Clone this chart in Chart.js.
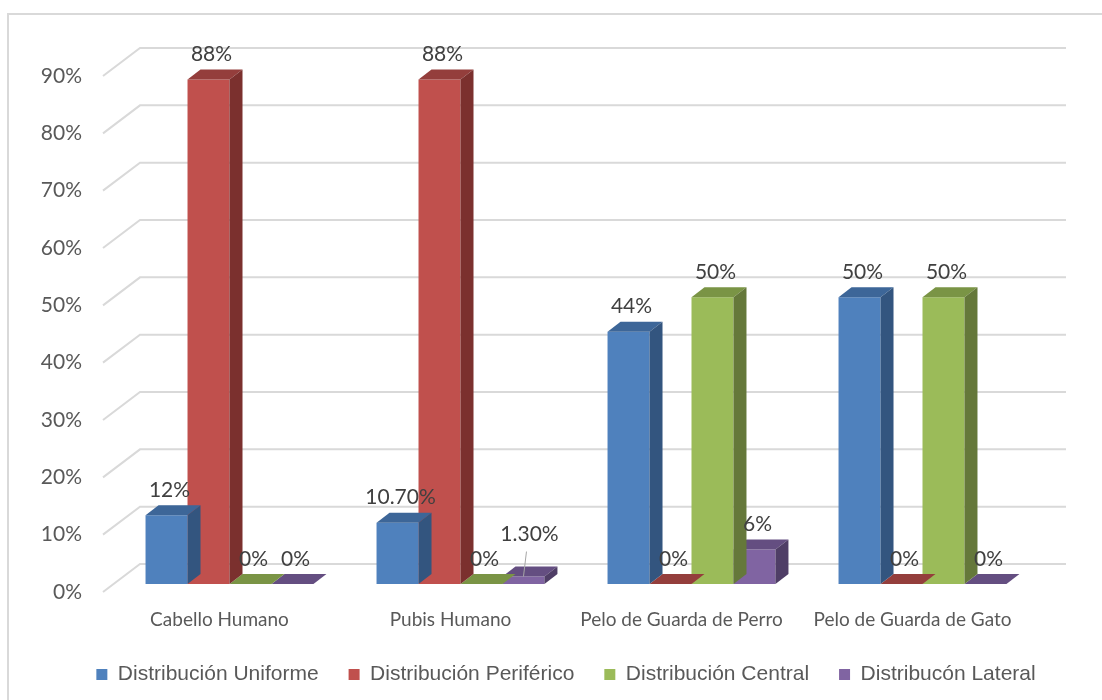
<!DOCTYPE html>
<html>
<head>
<meta charset="utf-8">
<script src="https://cdn.jsdelivr.net/npm/chart.js@4.4.1/dist/chart.umd.min.js"></script>
<style>
  html, body { margin: 0; padding: 0; background: #fff; overflow: hidden; }
  #frame { position: absolute; left: 7px; top: 13px; width: 1110px; height: 720px; border: 2px solid #D9D9D9; box-sizing: border-box; }
  #wrap { position: absolute; left: 0; top: 0; width: 1102px; height: 700px; }
</style>
</head>
<body>
<div id="frame"></div>
<div id="wrap"><canvas id="chart"></canvas></div>
<script>
// data (percent)
const categories = ['Cabello Humano', 'Pubis Humano', 'Pelo de Guarda de Perro', 'Pelo de Guarda de Gato'];
const seriesNames = ['Distribución Uniforme', 'Distribución Periférico', 'Distribución Central', 'Distribucón Lateral'];
const uniforme = [12, 10.7, 44, 50];
const periferico = [88, 88, 0, 0];
const central = [0, 0, 50, 50];
const lateral = [0, 1.3, 6, 0];
const yMax = 90;
const yStep = 10;

// face colours: front, top, side
const palette = [
  ['#4F81BD', '#3D6698', '#33557F'],
  ['#C0504D', '#943E3C', '#7B302E'],
  ['#9BBB59', '#7A9445', '#65783A'],
  ['#8064A2', '#644E81', '#4F3E66']
];

const DX = 13, DY = 10;          // bar depth
const fmt = v => Number.isInteger(v) ? v + '%' : v.toFixed(2) + '%';

const cube = {
  id: 'cube',
  afterLayout(chart) {
    // legend sits right of the canvas centre in the original
    chart.legend.left += 47;
    chart.legend.right += 47;
  },
  beforeDatasetsDraw(chart) {
    const {ctx, chartArea: a, scales: {y}} = chart;
    ctx.save();
    ctx.strokeStyle = '#D9D9D9';
    ctx.lineWidth = 2;
    y.ticks.forEach(t => {
      const py = y.getPixelForValue(t.value);
      ctx.beginPath();
      ctx.moveTo(a.left - 11, py + 8);
      ctx.lineTo(a.left + 26, py - 20);
      ctx.lineTo(a.right + 28, py - 20);
      ctx.stroke();
    });
    ctx.restore();
  },
  afterDatasetDraw(chart, args) {
    const ctx = chart.ctx;
    const c = palette[args.index];
    ctx.save();
    args.meta.data.forEach(bar => {
      const {x, y, base, width} = bar.getProps(['x', 'y', 'base', 'width'], true);
      const l = x - width / 2, r = x + width / 2;
      ctx.fillStyle = c[1];
      ctx.beginPath();
      ctx.moveTo(l, y); ctx.lineTo(r, y); ctx.lineTo(r + DX, y - DY); ctx.lineTo(l + DX, y - DY);
      ctx.closePath(); ctx.fill();
      if (base - y > 0.5) {
        ctx.fillStyle = c[2];
        ctx.beginPath();
        ctx.moveTo(r, y); ctx.lineTo(r + DX, y - DY); ctx.lineTo(r + DX, base - DY); ctx.lineTo(r, base);
        ctx.closePath(); ctx.fill();
      }
    });
    ctx.restore();
  },
  afterDraw(chart) {
    const ctx = chart.ctx;
    ctx.save();
    ctx.font = '21px Lato';
    ctx.fillStyle = '#404040';
    ctx.textAlign = 'center';
    ctx.textBaseline = 'middle';
    chart.data.datasets.forEach((ds, di) => {
      chart.getDatasetMeta(di).data.forEach((bar, i) => {
        let tx = bar.x + 3, ty = bar.y - DY - 15;
        if (di === 3 && i === 1) {
          // small bar: label pushed up with a leader line
          tx = bar.x + 6; ty = bar.y - DY - 32;
          ctx.strokeStyle = '#A6A6A6';
          ctx.lineWidth = 1;
          ctx.beginPath();
          ctx.moveTo(tx - 3, ty + 17);
          ctx.lineTo(bar.x, bar.y);
          ctx.stroke();
        }
        ctx.fillText(fmt(ds.data[i]), tx, ty);
      });
    });
    ctx.restore();
  }
};

const series = [uniforme, periferico, central, lateral];

new Chart(document.getElementById('chart'), {
  type: 'bar',
  data: {
    labels: categories,
    datasets: series.map((d, i) => ({
      label: seriesNames[i],
      data: d,
      backgroundColor: palette[i][0],
      borderWidth: 0,
      categoryPercentage: 0.727,
      barPercentage: 1
    }))
  },
  options: {
    responsive: true,
    maintainAspectRatio: false,
    animation: false,
    layout: { padding: { left: 0, right: 64, top: 68, bottom: 5 } },
    plugins: {
      tooltip: { enabled: false },
      legend: {
        position: 'bottom',
        labels: {
          boxWidth: 11,
          boxHeight: 11,
          padding: 30,
          color: '#595959',
          font: { family: '"Liberation Sans", Arial', size: 21 }
        }
      }
    },
    scales: {
      x: {
        grid: { display: false, drawTicks: false },
        border: { display: false },
        afterFit(s) { s.height = 50; },
        ticks: {
          color: '#595959',
          font: { family: 'Lato', size: 19 },
          padding: 24,
          labelOffset: -10,
          maxRotation: 0
        }
      },
      y: {
        min: 0,
        max: yMax,
        grid: { display: false, drawTicks: false },
        border: { display: false },
        afterFit(s) { s.width = 114; },
        ticks: {
          stepSize: yStep,
          color: '#595959',
          font: { family: 'Lato', size: 21 },
          padding: 32,
          labelOffset: 8,
          callback: v => v + '%'
        }
      }
    }
  },
  plugins: [cube]
});
</script>
</body>
</html>
